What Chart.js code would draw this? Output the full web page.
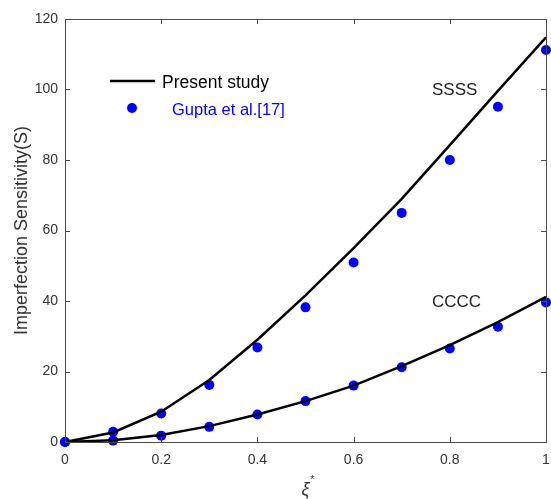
<!DOCTYPE html>
<html>
<head>
<meta charset="utf-8">
<script src="https://cdn.jsdelivr.net/npm/chart.js@4.4.1/dist/chart.umd.min.js"></script>
<style>
  html, body { margin: 0; padding: 0; background: #fff; }
  #wrap { width: 551px; height: 499px; }
</style>
</head>
<body>
<div id="wrap"><canvas id="chart"></canvas></div>
<script>
// values
const xi = [0, 0.1, 0.2, 0.3, 0.4, 0.5, 0.6, 0.7, 0.8, 0.9, 1];
const ssssPresent = [0, 2.7, 8.6, 17.6, 29.0, 41.6, 55.0, 69.0, 84.2, 99.6, 114.8];
const ccccPresent = [0, 0.5, 2.0, 4.5, 7.8, 11.6, 16.0, 21.5, 27.5, 34.0, 41.2];
const ssssGupta = [0, 2.9, 8.1, 16.2, 26.8, 38.2, 50.9, 65.0, 80.0, 95.1, 111.2];
const ccccGupta = [0, 0.4, 1.8, 4.3, 7.8, 11.6, 16.0, 21.2, 26.5, 32.7, 39.6];
const xTicks = [0, 0.2, 0.4, 0.6, 0.8, 1];
const yTicks = [0, 20, 40, 60, 80, 100, 120];
const curveNames = ['SSSS', 'CCCC'];
const legendNames = ['Present study', 'Gupta et al.[17]'];

const FONT = "'Liberation Sans', Arial, Helvetica, sans-serif";
const AXIS = '#4a4a4a';

function pts(ys) {
    return xi.map((x, i) => ({ x: x, y: ys[i] }));
}

// box, inward ticks, curve names, legend and x title
const decor = {
    id: 'decor',
    afterDraw(chart) {
        const ctx = chart.ctx;
        const a = chart.chartArea;
        const sx = chart.scales.x, sy = chart.scales.y;
        ctx.save();
        ctx.strokeStyle = AXIS;
        ctx.lineWidth = 1;
        ctx.strokeRect(a.left + 0.5, a.top + 0.5, a.right - a.left, a.bottom - a.top);
        ctx.beginPath();
        xTicks.forEach(v => {
            const px = Math.round(sx.getPixelForValue(v)) + 0.5;
            ctx.moveTo(px, a.bottom); ctx.lineTo(px, a.bottom - 5);
            ctx.moveTo(px, a.top); ctx.lineTo(px, a.top + 5);
        });
        yTicks.forEach(v => {
            const py = Math.round(sy.getPixelForValue(v)) + 0.5;
            ctx.moveTo(a.left, py); ctx.lineTo(a.left + 5, py);
            ctx.moveTo(a.right, py); ctx.lineTo(a.right - 5, py);
        });
        ctx.stroke();

        // curve names
        ctx.fillStyle = '#222';
        ctx.font = '17px ' + FONT;
        ctx.textBaseline = 'middle';
        ctx.textAlign = 'left';
        ctx.fillText(curveNames[0], sx.getPixelForValue(0.763), sy.getPixelForValue(99.8));
        ctx.fillText(curveNames[1], sx.getPixelForValue(0.763), sy.getPixelForValue(39.5));

        // legend
        ctx.strokeStyle = '#000';
        ctx.lineWidth = 2.5;
        ctx.beginPath();
        ctx.moveTo(110, 81); ctx.lineTo(155, 81);
        ctx.stroke();
        ctx.fillStyle = '#000';
        ctx.font = '17.5px ' + FONT;
        ctx.fillText(legendNames[0], 162, 83);
        ctx.fillStyle = '#0000ff';
        ctx.beginPath();
        ctx.arc(132, 108, 5, 0, Math.PI * 2);
        ctx.fill();
        ctx.font = '16.5px ' + FONT;
        ctx.fillText(legendNames[1], 172, 110);

        // x title: xi with superscript star
        const cx = (a.left + a.right) / 2;
        ctx.fillStyle = '#333';
        ctx.font = 'italic 18px ' + FONT;
        ctx.textAlign = 'center';
        ctx.fillText('ξ', cx, 490);
        ctx.font = '11px ' + FONT;
        ctx.fillText('*', cx + 7, 480);
        ctx.restore();
    }
};

new Chart(document.getElementById('chart'), {
    type: 'scatter',
    data: {
        datasets: [
            { type: 'line', label: 'SSSS present', data: pts(ssssPresent), borderColor: '#000', borderWidth: 2.5, pointRadius: 0, fill: false, tension: 0 },
            { type: 'line', label: 'CCCC present', data: pts(ccccPresent), borderColor: '#000', borderWidth: 2.5, pointRadius: 0, fill: false, tension: 0 },
            { label: 'SSSS Gupta', data: pts(ssssGupta), backgroundColor: '#0000ff', borderColor: '#0000ff', pointRadius: 5, pointBorderWidth: 0 },
            { label: 'CCCC Gupta', data: pts(ccccGupta), backgroundColor: '#0000ff', borderColor: '#0000ff', pointRadius: 5, pointBorderWidth: 0 }
        ]
    },
    options: {
        responsive: true,
        maintainAspectRatio: false,
        animation: false,
        clip: false,
        layout: { autoPadding: false, padding: { top: 19, right: 5, left: 0, bottom: 0 } },
        plugins: { legend: { display: false }, tooltip: { enabled: false } },
        scales: {
            x: {
                type: 'linear', min: 0, max: 1,
                afterFit: s => { s.height = 57; s.paddingLeft = 0; s.paddingRight = 0; },
                afterBuildTicks: s => { s.ticks = xTicks.map(v => ({ value: v })); },
                grid: { display: false, drawTicks: false },
                border: { display: false },
                ticks: { color: '#333', padding: 10, font: { family: FONT, size: 14 }, callback: v => String(v) }
            },
            y: {
                min: 0, max: 120,
                afterFit: s => { s.width = 65; s.paddingTop = 0; s.paddingBottom = 0; },
                afterBuildTicks: s => { s.ticks = yTicks.map(v => ({ value: v })); },
                grid: { display: false, drawTicks: false },
                border: { display: false },
                ticks: { color: '#333', padding: 7, font: { family: FONT, size: 14 } },
                title: { display: true, text: 'Imperfection Sensitivity(S)', color: '#333', padding: { top: 11, bottom: 0 }, font: { family: FONT, size: 18 } }
            }
        }
    },
    plugins: [decor]
});
</script>
</body>
</html>
